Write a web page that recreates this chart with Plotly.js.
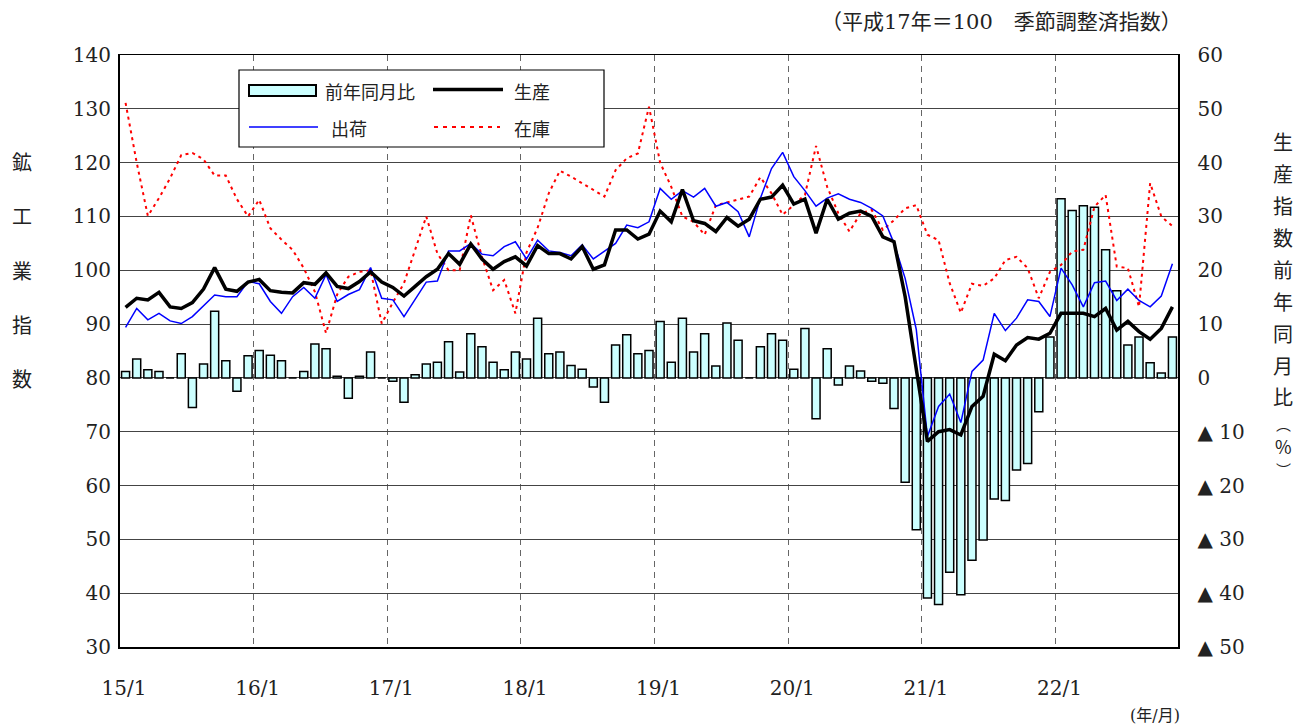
<!DOCTYPE html>
<html>
<head>
<meta charset="utf-8">
<script src="https://cdn.plot.ly/plotly-3.0.1.min.js"></script>
<style>
  html, body { margin: 0; padding: 0; background: #fff; }
  #chart { width: 1298px; height: 726px; }
</style>
</head>
<body>
<div id="chart"></div>
<script>
// ---- data (monthly, 2015/1 .. 2022/11) ----
const yearLabels = ['15/1', '16/1', '17/1', '18/1', '19/1', '20/1', '21/1', '22/1'];

const production = [
  93.1, 94.8, 94.5, 95.9, 93.2, 92.9, 94.0, 96.5, 100.5, 96.5, 96.1, 97.8,
  98.3, 96.2, 95.9, 95.8, 97.7, 97.4, 99.5, 97.0, 96.6, 97.9, 99.7, 97.8,
  96.8, 95.2, 97.0, 98.8, 100.2, 103.1, 101.1, 104.9, 102.1, 100.2, 101.6, 102.5,
  100.8, 104.6, 103.1, 103.1, 102.1, 104.4, 100.2, 101.0, 107.5, 107.5, 105.8, 106.7,
  111.0, 109.0, 115.0, 109.2, 108.7, 107.2, 109.8, 108.2, 109.5, 113.2, 113.6, 115.8,
  112.3, 113.2, 106.9, 113.2, 109.5, 110.6, 111.0, 110.0, 106.2, 105.3, 95.1, 82.1,
  68.2, 70.0, 70.4, 69.4, 74.7, 76.6, 84.4, 83.2, 86.1, 87.5, 87.2, 88.3,
  92.0, 92.0, 92.0, 91.4, 92.9, 88.9, 90.5, 88.6, 87.2, 89.2, 93.2
];

const shipments = [
  89.4, 92.9, 90.8, 92.0, 90.6, 90.1, 91.4, 93.4, 95.4, 95.1, 95.1, 97.9,
  97.5, 94.2, 92.0, 95.1, 96.8, 94.8, 99.2, 94.2, 95.5, 96.4, 100.5, 94.8,
  94.5, 91.4, 94.5, 97.8, 98.0, 103.6, 103.6, 105.0, 103.0, 102.7, 104.4, 105.3,
  102.1, 105.6, 103.6, 103.3, 102.7, 104.7, 102.1, 103.5, 105.0, 108.4, 107.9, 109.0,
  115.2, 113.2, 114.8, 113.6, 115.2, 111.9, 112.6, 110.9, 106.2, 113.4, 118.9, 121.9,
  117.4, 114.8, 111.9, 113.4, 114.2, 113.2, 112.6, 111.5, 110.1, 105.0, 98.5, 89.0,
  69.1, 74.7, 77.0, 71.7, 81.2, 83.3, 92.0, 88.8, 91.1, 94.5, 94.2, 91.4,
  100.4, 97.3, 93.2, 97.7, 98.0, 94.4, 96.5, 94.4, 93.2, 95.2, 101.2
];

const inventory = [
  131.1, 120.0, 110.1, 113.4, 117.1, 121.4, 121.8, 120.6, 117.6, 117.6, 113.2, 110.0,
  113.1, 107.8, 105.7, 103.8, 100.4, 96.0, 88.3, 95.5, 98.8, 99.7, 100.0, 90.1,
  94.0, 97.6, 103.8, 110.0, 103.1, 100.0, 100.0, 110.2, 102.5, 96.3, 98.2, 92.0,
  103.3, 107.9, 114.3, 118.5, 117.4, 116.2, 114.9, 113.7, 118.6, 120.8, 121.7, 130.4,
  120.0, 115.5, 110.0, 109.0, 106.6, 112.1, 112.6, 113.1, 113.7, 117.3, 114.3, 110.3,
  112.1, 114.0, 123.1, 115.5, 110.6, 107.2, 110.6, 111.2, 107.5, 109.3, 111.5, 112.1,
  106.6, 105.6, 97.6, 92.1, 97.5, 97.1, 98.5, 101.9, 102.5, 100.4, 94.8, 99.7,
  101.0, 103.5, 103.8, 111.8, 114.0, 100.7, 100.4, 93.2, 116.2, 110.0, 108.2
];

const yoyChange = [
  1.2, 3.5, 1.5, 1.2, 0.0, 4.5, -5.5, 2.6, 12.4, 3.2, -2.5, 4.1,
  5.1, 4.2, 3.2, 0.0, 1.2, 6.3, 5.4, 0.3, -3.8, 0.3, 4.8, 0.0,
  -0.6, -4.5, 0.6, 2.6, 2.9, 6.7, 1.1, 8.2, 5.8, 2.9, 1.5, 4.8,
  3.5, 11.1, 4.5, 4.8, 2.3, 1.6, -1.7, -4.5, 6.1, 8.0, 4.5, 5.1,
  10.5, 2.9, 11.1, 4.8, 8.2, 2.2, 10.2, 7.0, 0.0, 5.8, 8.2, 7.0,
  1.6, 9.2, -7.6, 5.4, -1.3, 2.2, 1.3, -0.6, -1.0, -5.7, -19.4, -28.2,
  -40.9, -42.1, -36.1, -40.3, -33.9, -30.1, -22.5, -22.8, -17.1, -15.9, -6.3, 7.6,
  33.3, 31.1, 32.0, 31.7, 23.8, 16.2, 6.1, 7.6, 2.8, 0.9, 7.6
];

const leftTicks = [30, 40, 50, 60, 70, 80, 90, 100, 110, 120, 130, 140];
const rightTicks = [-50, -40, -30, -20, -10, 0, 10, 20, 30, 40, 50, 60];
const rightTickText = rightTicks.map(v => v < 0 ? '▲ ' + (-v) : String(v));

// ---- geometry helpers (pixel -> paper) ----
const W = 1298, H = 726;
const M = { l: 120, r: 120, t: 55, b: 79 };
const PW = W - M.l - M.r, PH = H - M.t - M.b;
const px = x => (x - M.l) / PW;
const py = y => (H - M.b - y) / PH;

const idx = production.map((_, i) => i);
const yearTickVals = yearLabels.map((_, k) => k * 12 - 0.5);

const numFont = 'DejaVu Serif, Liberation Serif, serif';
const jpFont = 'Noto Sans CJK JP, sans-serif';

const traces = [
  {
    type: 'bar', x: idx, y: yoyChange, yaxis: 'y', xaxis: 'x',
    width: 0.72,
    marker: { color: '#CCFFFF', line: { color: '#000', width: 1.5 } },
    name: '前年同月比', hoverinfo: 'skip'
  },
  {
    type: 'scatter', mode: 'lines', x: idx, y: inventory, yaxis: 'y2',
    line: { color: '#FF0000', width: 2, dash: '3px,4px' },
    name: '在庫', hoverinfo: 'skip'
  },
  {
    type: 'scatter', mode: 'lines', x: idx, y: shipments, yaxis: 'y2',
    line: { color: '#0000FF', width: 1.5 },
    name: '出荷', hoverinfo: 'skip'
  },
  {
    type: 'scatter', mode: 'lines', x: idx, y: production, yaxis: 'y2',
    line: { color: '#000000', width: 3.5 },
    name: '生産', hoverinfo: 'skip'
  }
];

const shapes = [];
const annotations = [];

// legend box (drawn manually)
shapes.push({ type: 'rect', xref: 'paper', yref: 'paper', layer: 'above',
  x0: px(239), x1: px(604), y0: py(147), y1: py(70),
  fillcolor: '#FFFFFF', line: { color: '#000', width: 1.2 } });
shapes.push({ type: 'rect', xref: 'paper', yref: 'paper', layer: 'above',
  x0: px(249), x1: px(316), y0: py(96), y1: py(85),
  fillcolor: '#CCFFFF', line: { color: '#000', width: 2 } });
shapes.push({ type: 'line', xref: 'paper', yref: 'paper', layer: 'above',
  x0: px(433), x1: px(503), y0: py(89.5), y1: py(89.5),
  line: { color: '#000', width: 3.5 } });
shapes.push({ type: 'line', xref: 'paper', yref: 'paper', layer: 'above',
  x0: px(249), x1: px(318), y0: py(127), y1: py(127),
  line: { color: '#0000FF', width: 1.5 } });
shapes.push({ type: 'line', xref: 'paper', yref: 'paper', layer: 'above',
  x0: px(434), x1: px(500), y0: py(127), y1: py(127),
  line: { color: '#FF0000', width: 2, dash: '4px,5px' } });

const legendTexts = [
  { t: '前年同月比', x: 323, y: 91 },
  { t: '生産', x: 512, y: 91 },
  { t: '出荷', x: 329, y: 128 },
  { t: '在庫', x: 512, y: 128 }
];
legendTexts.forEach(o => annotations.push({
  xref: 'paper', yref: 'paper', x: px(o.x), y: py(o.y), xanchor: 'left', yanchor: 'middle',
  text: o.t, showarrow: false, font: { family: jpFont, size: 18, color: '#222' }
}));

// left axis title, stacked vertically
const leftTitle = '鉱工業指数';
[...leftTitle].forEach((c, k) => annotations.push({
  xref: 'paper', yref: 'paper', x: px(22), y: py(162 + k * 54), xanchor: 'center', yanchor: 'middle',
  text: c, showarrow: false, font: { family: jpFont, size: 20, color: '#222' }
}));

// right axis title, stacked vertically
const rightTitle = '生産指数前年同月比';
[...rightTitle].forEach((c, k) => annotations.push({
  xref: 'paper', yref: 'paper', x: px(1283), y: py(141 + k * 32), xanchor: 'center', yanchor: 'middle',
  text: c, showarrow: false, font: { family: jpFont, size: 20, color: '#222' }
}));
const unitParts = ['︵', '%', '︶'];
const unitYs = [423, 446, 469];
const unitSizes = [15, 18, 15];
unitParts.forEach((c, k) => annotations.push({
  xref: 'paper', yref: 'paper', x: px(1283), y: py(unitYs[k]), xanchor: 'center', yanchor: 'middle',
  text: c, showarrow: false, font: { family: jpFont, size: unitSizes[k], color: '#222' }
}));

annotations.push({
  xref: 'paper', yref: 'paper', x: px(1184), y: py(22), xanchor: 'right', yanchor: 'middle',
  text: '（平成17年＝100　季節調整済指数）', showarrow: false,
  font: { family: numFont + ', ' + jpFont, size: 21, color: '#222' }
});
annotations.push({
  xref: 'paper', yref: 'paper', x: px(1155), y: py(716), xanchor: 'center', yanchor: 'middle',
  text: '(年/月)', showarrow: false,
  font: { family: numFont + ', ' + jpFont, size: 16, color: '#222' }
});

const layout = {
  width: W, height: H,
  margin: M,
  paper_bgcolor: '#fff', plot_bgcolor: '#fff',
  showlegend: false,
  bargap: 0,
  xaxis: {
    range: [-0.5, 94.5],
    tickmode: 'array', tickvals: yearTickVals, ticktext: yearLabels,
    showgrid: true, gridcolor: '#666', gridwidth: 1, griddash: '6px,5px',
    zeroline: false,
    showline: true, linecolor: '#000', linewidth: 1.5, mirror: true,
    ticks: '', ticklabelstandoff: 22, ticklabelshift: 4,
    tickfont: { family: numFont, size: 20, color: '#222' }
  },
  yaxis: {
    side: 'right', range: [-50, 60],
    tickmode: 'array', tickvals: rightTicks, ticktext: rightTickText,
    showgrid: true, gridcolor: '#444', gridwidth: 1,
    zeroline: false,
    showline: true, linecolor: '#000', linewidth: 1.5,
    ticks: '', ticklabelstandoff: 14,
    tickfont: { family: numFont, size: 20, color: '#222' }
  },
  yaxis2: {
    overlaying: 'y', side: 'left', anchor: 'x', range: [30, 140],
    tickmode: 'array', tickvals: leftTicks,
    showgrid: false, zeroline: false,
    showline: true, linecolor: '#000', linewidth: 2,
    ticks: '', ticklabelstandoff: 3,
    tickfont: { family: numFont, size: 20, color: '#222' }
  },
  shapes: shapes,
  annotations: annotations
};

Plotly.newPlot('chart', traces, layout, { displayModeBar: false, staticPlot: true });
</script>
</body>
</html>
